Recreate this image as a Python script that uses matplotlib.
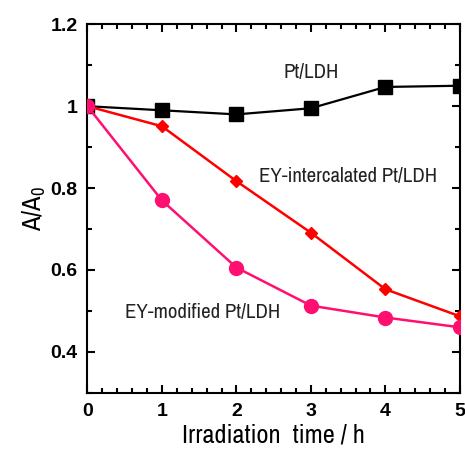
import matplotlib
matplotlib.use("Agg")
import matplotlib.pyplot as plt
from matplotlib.ticker import MultipleLocator

# data
time_h = [0, 1, 2, 3, 4, 5]
pt_ldh = [1.0, 0.99, 0.98, 0.995, 1.047, 1.05]
ey_intercalated = [1.0, 0.951, 0.817, 0.691, 0.553, 0.487]
ey_modified = [1.0, 0.77, 0.606, 0.513, 0.484, 0.46]

NARROW = ["Archivo Narrow", "Liberation Sans", "DejaVu Sans"]
BOLD = ["Liberation Sans", "DejaVu Sans"]
PINK = "#FF1070"

plt.rcParams["mathtext.fontset"] = "custom"
plt.rcParams["mathtext.rm"] = "Archivo Narrow"

fig = plt.figure(figsize=(4.65, 4.5), dpi=100)
ax = fig.add_axes([0.188, 0.127, 0.801, 0.819])

ax.plot(time_h, pt_ldh, color="black", lw=1.6, marker="s", ms=9.5, zorder=3)
ax.plot(time_h, ey_intercalated, color="#FF0000", lw=1.8, marker="D", ms=6.5, zorder=4)
ax.plot(time_h, ey_modified, color=PINK, lw=1.8, marker="o", ms=10, zorder=5)

ax.text(3.0, 1.082, "Pt/LDH", family=NARROW, fontsize=15, ha="center", va="center", color="#222222")
ax.text(3.5, 0.829, "EY-intercalated Pt/LDH", family=NARROW, fontsize=15, ha="center", va="center", color="#222222")
ax.text(1.55, 0.497, "EY-modified Pt/LDH", family=NARROW, fontsize=15, ha="center", va="center", color="#222222")

ax.set_xlim(0, 5)
ax.set_ylim(0.3, 1.2)
ax.xaxis.set_major_locator(MultipleLocator(1))
ax.xaxis.set_minor_locator(MultipleLocator(0.2))
ax.yaxis.set_minor_locator(MultipleLocator(0.1))
ax.set_yticks([0.4, 0.6, 0.8, 1.0, 1.2])
ax.set_yticklabels(["0.4", "0.6", "0.8", "1", "1.2"])
ax.tick_params(which="both", direction="in", top=True, right=True, width=1.5)
ax.tick_params(which="major", length=6, pad=7)
ax.tick_params(which="minor", length=3.5)
for lbl in ax.get_xticklabels() + ax.get_yticklabels():
    lbl.set_family(BOLD)
    lbl.set_fontweight("bold")
    lbl.set_fontsize(14)
for s in ax.spines.values():
    s.set_linewidth(1.5)

ax.set_xlabel("Irradiation  time / h", family=NARROW, fontsize=19, labelpad=3)
ax.set_ylabel(r"A/A$_{\mathrm{0}}$", family=NARROW, fontsize=19, labelpad=2)

fig.savefig("out.png", dpi=100, facecolor="white")
